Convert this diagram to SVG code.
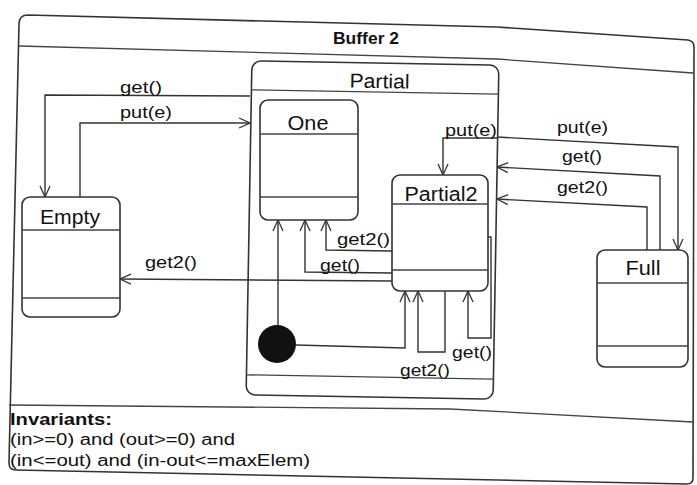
<svg xmlns="http://www.w3.org/2000/svg" width="697" height="485" viewBox="0 0 697 485">
<defs>
<marker id="arr" viewBox="0 0 12 12" refX="12" refY="6" markerWidth="12" markerHeight="12" markerUnits="userSpaceOnUse" orient="auto">
<path d="M1,1 L12,6 L1,11" fill="none" stroke="#333" stroke-width="1.3"/>
</marker>
</defs>
<style>
.box{fill:none;stroke:#333;stroke-width:1.6}
.div{fill:none;stroke:#444;stroke-width:1.3}
.st{fill:#fff;stroke:#333;stroke-width:1.6}
.ln{fill:none;stroke:#333;stroke-width:1.4;marker-end:url(#arr)}
.t{font-family:"Liberation Sans",Arial,sans-serif;fill:#111}
.lbl{font-size:17px}
.nm{font-size:20px}
</style>
<rect width="697" height="485" fill="#fff"/>
<g id="buffer2">
<path class="box" d="M19,24 Q19,15 28,15 L497,27 L688,40 Q694,41 694,47 L693,478 Q693,484 687,484 L16,470 Q9,470 9,463 Z"/>
<path class="div" d="M19,46 L497,59 L693,73"/>
<path class="div" d="M9,405 L450,409 L693,422"/>
<text class="t" x="366" y="44" font-size="17" font-weight="bold" text-anchor="middle" textLength="66" lengthAdjust="spacingAndGlyphs">Buffer 2</text>
<text class="t" x="10" y="425" font-size="16" font-weight="bold" textLength="102" lengthAdjust="spacingAndGlyphs">Invariants:</text>
<text class="t" x="10" y="445" font-size="16" textLength="225" lengthAdjust="spacingAndGlyphs">(in&gt;=0) and (out&gt;=0) and</text>
<text class="t" x="10" y="466" font-size="16" textLength="300" lengthAdjust="spacingAndGlyphs">(in&lt;=out) and (in-out&lt;=maxElem)</text>
</g>
<g id="partial" transform="rotate(1 372 230)">
<rect class="box" x="249" y="63" width="247" height="334" rx="9"/>
<line class="div" x1="249" y1="92" x2="496" y2="92"/>
<line class="div" x1="249" y1="377" x2="496" y2="377"/>
<text class="t nm" x="377" y="88" text-anchor="middle" textLength="60" lengthAdjust="spacingAndGlyphs">Partial</text>
</g>
<g id="empty">
<rect class="st" x="22" y="197" width="98" height="120" rx="8"/>
<line class="div" x1="22" y1="230" x2="120" y2="230"/>
<line class="div" x1="22" y1="298" x2="120" y2="298"/>
<text class="t nm" x="70" y="224" text-anchor="middle" textLength="60" lengthAdjust="spacingAndGlyphs">Empty</text>
</g>
<g id="one">
<rect class="st" x="260" y="100" width="98" height="120" rx="8"/>
<line class="div" x1="260" y1="134" x2="358" y2="134"/>
<line class="div" x1="260" y1="197" x2="358" y2="197"/>
<text class="t nm" x="308" y="130" text-anchor="middle" textLength="41" lengthAdjust="spacingAndGlyphs">One</text>
</g>
<g id="partial2">
<rect class="st" x="392" y="175" width="96" height="116" rx="8"/>
<line class="div" x1="392" y1="204" x2="488" y2="204"/>
<line class="div" x1="392" y1="270" x2="488" y2="270"/>
<text class="t nm" x="441" y="201" text-anchor="middle" textLength="73" lengthAdjust="spacingAndGlyphs">Partial2</text>
</g>
<g id="full">
<rect class="st" x="597" y="250" width="91" height="117" rx="8"/>
<line class="div" x1="597" y1="283" x2="688" y2="283"/>
<line class="div" x1="597" y1="346" x2="688" y2="346"/>
<text class="t nm" x="643" y="275" text-anchor="middle" textLength="35" lengthAdjust="spacingAndGlyphs">Full</text>
</g>
<g id="initial">
<circle cx="277" cy="344" r="19" fill="#111"/>
</g>
<g id="connectors">
<polyline class="ln" points="250,96 45,95 45,197"/>
<polyline class="ln" points="80,197 80,123 250,123"/>
<polyline class="ln" points="392,281 120,279"/>
<polyline class="ln" points="392,251 326,250 326,220"/>
<polyline class="ln" points="392,273 305,272 305,220"/>
<polyline class="ln" points="278,325 278,220"/>
<polyline class="ln" points="296,345 405,348 405,291"/>
<polyline class="ln" points="445,291 445,352 418,352 418,291"/>
<polyline class="ln" points="488,237 491,237 491,338 468,338 468,291"/>
<polyline class="ln" points="497,138 443,138 443,175"/>
<polyline class="ln" points="497,137 678,147 678,250"/>
<polyline class="ln" points="660,250 660,176 497,167"/>
<polyline class="ln" points="647,250 647,207 497,199"/>
<text class="t lbl" x="120" y="93" textLength="42" lengthAdjust="spacingAndGlyphs">get()</text>
<text class="t lbl" x="120" y="118" textLength="52" lengthAdjust="spacingAndGlyphs">put(e)</text>
<text class="t lbl" x="145" y="268" textLength="52" lengthAdjust="spacingAndGlyphs">get2()</text>
<text class="t lbl" x="337" y="245" textLength="53" lengthAdjust="spacingAndGlyphs">get2()</text>
<text class="t lbl" x="320" y="271" textLength="40" lengthAdjust="spacingAndGlyphs">get()</text>
<text class="t lbl" x="452" y="358" textLength="40" lengthAdjust="spacingAndGlyphs">get()</text>
<text class="t lbl" x="400" y="376" textLength="50" lengthAdjust="spacingAndGlyphs">get2()</text>
<text class="t lbl" x="445" y="136" textLength="52" lengthAdjust="spacingAndGlyphs">put(e)</text>
<text class="t lbl" x="557" y="133" textLength="51" lengthAdjust="spacingAndGlyphs">put(e)</text>
<text class="t lbl" x="562" y="162" textLength="40" lengthAdjust="spacingAndGlyphs">get()</text>
<text class="t lbl" x="557" y="193" textLength="51" lengthAdjust="spacingAndGlyphs">get2()</text>
</g>
</svg>
